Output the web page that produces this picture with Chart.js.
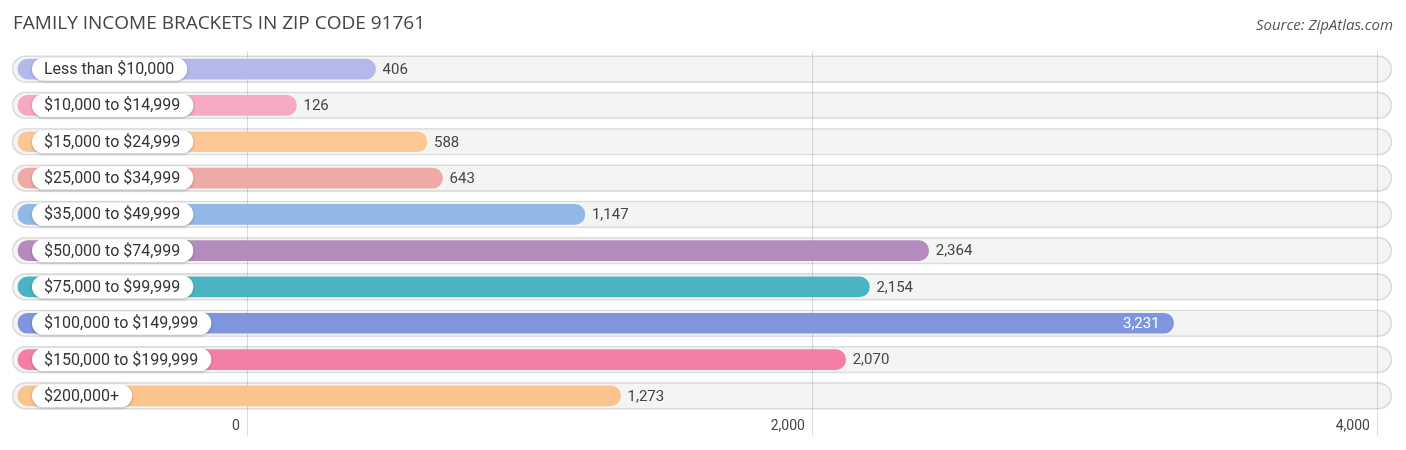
<!DOCTYPE html>
<html>
<head>
<meta charset="utf-8">
<script src="https://cdn.jsdelivr.net/npm/chart.js@4"></script>
<style>
  body { margin: 0; background: #fff; }
  #wrap { width: 1406px; height: 450px; }
</style>
</head>
<body>
<div id="wrap"><canvas id="grafica" width="1406" height="450"></canvas></div>
<script>
// datos
const categorias = ["Less than $10,000", "$10,000 to $14,999", "$15,000 to $24,999", "$25,000 to $34,999",
  "$35,000 to $49,999", "$50,000 to $74,999", "$75,000 to $99,999", "$100,000 to $149,999",
  "$150,000 to $199,999", "$200,000+"];
const familias = [406, 126, 588, 643, 1147, 2364, 2154, 3231, 2070, 1273];
const ticksX = [0, 2000, 4000];
const colores = ["#b3baeb", "#f6a8c4", "#fbc794", "#efa9a6", "#92b9e6", "#b48bbd",
  "#4bb4c3", "#7f95de", "#f57fa4", "#fbc38d"];

const titulo = "FAMILY INCOME BRACKETS IN ZIP CODE 91761";
const fuente = "Source: ZipAtlas.com";

// escala de las barras corrida un poco (la punta redonda sobresale del valor)
const barMin = -881, barMax = 4004, barInicio = -860;
const maxIdx = familias.indexOf(Math.max(...familias));

const textos = {
  id: "textos",
  afterDatasetsDraw(chart) {
    const ctx = chart.ctx;
    const meta = chart.getDatasetMeta(0);
    ctx.save();
    meta.data.forEach((bar, i) => {
      // pastilla blanca con el nombre
      ctx.font = "16px Roboto";
      const w = ctx.measureText(categorias[i]).width + 25;
      const h = 23, x = 32, y = bar.y - h / 2;
      ctx.save();
      ctx.shadowColor = "rgba(0,0,0,0.25)";
      ctx.shadowBlur = 3;
      ctx.shadowOffsetY = 1;
      ctx.fillStyle = "#fff";
      ctx.beginPath();
      ctx.roundRect(x, y, w, h, h / 2);
      ctx.fill();
      ctx.restore();
      ctx.fillStyle = "#333";
      ctx.textAlign = "left";
      ctx.textBaseline = "middle";
      ctx.fillText(categorias[i], x + 12, bar.y + 1);

      // valor
      ctx.font = "15px Roboto";
      const txt = familias[i].toLocaleString("en-US");
      if (i === maxIdx) {
        ctx.fillStyle = "#fff";
        ctx.textAlign = "right";
        ctx.fillText(txt, bar.x - 14, bar.y + 1);
      } else {
        ctx.fillStyle = "#444";
        ctx.textAlign = "left";
        ctx.fillText(txt, bar.x + 7, bar.y + 1);
      }
    });

    // etiquetas del eje x
    const escalaX = chart.scales.x;
    ctx.font = "14px Roboto";
    ctx.fillStyle = "#444";
    ctx.textAlign = "right";
    ticksX.forEach(v => {
      ctx.fillText(v.toLocaleString("en-US"), escalaX.getPixelForValue(v) - 8, 426);
    });

    // titulo y fuente
    ctx.textBaseline = "alphabetic";
    ctx.textAlign = "left";
    ctx.fillStyle = "#444";
    ctx.font = "19px 'Open Sans'";
    ctx.fillText(titulo, 13, 29);
    ctx.textAlign = "right";
    ctx.fillStyle = "#555";
    ctx.font = "italic 15px 'Open Sans'";
    ctx.fillText(fuente, 1393, 30);
    ctx.restore();
  }
};

let miCanvas = document.getElementById("grafica").getContext("2d");
let chart = new Chart(miCanvas, {
  type: "bar",
  data: {
    labels: categorias,
    datasets: [{
      label: "Families",
      data: familias,
      base: barInicio,
      backgroundColor: colores,
      borderRadius: 10,
      borderSkipped: false,
      barThickness: 20,
      xAxisID: "xBar",
      grouped: false,
      order: 1
    }, {
      label: "fondo",
      data: familias.map(() => barMax),
      base: barMin,
      backgroundColor: "rgba(0,0,0,0.045)",
      borderColor: "rgba(0,0,0,0.12)",
      borderWidth: 1,
      borderRadius: 14,
      borderSkipped: false,
      barThickness: 27,
      xAxisID: "xBar",
      grouped: false,
      order: 2
    }]
  },
  options: {
    indexAxis: "y",
    responsive: false,
    devicePixelRatio: 1,
    animation: false,
    layout: { padding: { top: 51, bottom: 14, left: 12, right: 14 } },
    plugins: { legend: { display: false }, tooltip: { enabled: false }, title: { display: false } },
    scales: {
      y: { display: false },
      x: {
        position: "bottom",
        min: -835,
        max: 4050,
        afterBuildTicks: axis => { axis.ticks = ticksX.map(v => ({ value: v })); },
        border: { display: false },
        grid: { color: "#dcdcdc", lineWidth: 1, drawTicks: true, tickLength: 22, tickColor: "#dcdcdc" },
        ticks: { display: false }
      },
      xBar: {
        display: false,
        min: barMin,
        max: barMax
      }
    }
  },
  plugins: [textos]
});
</script>
</body>
</html>
